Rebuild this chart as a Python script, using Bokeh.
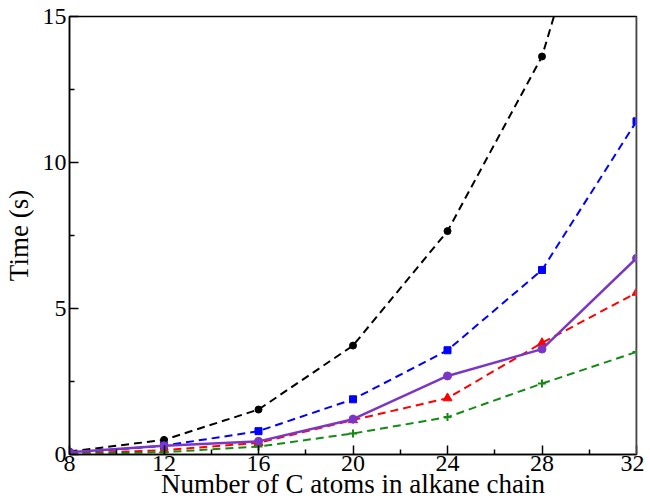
from bokeh.plotting import figure
from bokeh.models import Range1d, FixedTicker, Span
from bokeh.embed import file_html
from bokeh.resources import INLINE

carbons = [8, 12, 16, 20, 24, 28, 32]
black_vals = [0.10, 0.50, 1.54, 3.73, 7.65, 13.63, 24.5]
blue_vals = [0.05, 0.30, 0.80, 1.89, 3.57, 6.32, 11.41]
red_vals = [0.02, 0.15, 0.40, 1.18, 1.93, 3.82, 5.54]
green_vals = [0.01, 0.08, 0.27, 0.72, 1.28, 2.43, 3.51]
purple_vals = [0.08, 0.30, 0.45, 1.21, 2.69, 3.61, 6.72]

x_ticks = [8, 12, 16, 20, 24, 28, 32]
x_minor = [10, 14, 18, 22, 26, 30]
y_ticks = [0, 5, 10, 15]
y_minor = [2.5, 7.5, 12.5]
x_title = "Number of C atoms in alkane chain"
y_title = "Time (s)"

FONT = "Liberation Serif"

p = figure(width=644, height=501, output_backend="svg", toolbar_location=None,
           x_range=Range1d(8, 32), y_range=Range1d(0, 15),
           min_border_left=69, min_border_right=8, min_border_top=16, min_border_bottom=40)
p.xgrid.visible = False
p.ygrid.visible = False
p.outline_line_color = "black"
p.outline_line_width = 1.5
p.background_fill_color = "white"
p.border_fill_color = "white"

dash = "8 5"
p.line(carbons, black_vals, color="black", line_width=2, line_dash=dash)
p.scatter(carbons, black_vals, marker="circle", size=7, color="black")
p.line(carbons, blue_vals, color="#0000ff", line_width=2, line_dash=dash)
p.scatter(carbons, blue_vals, marker="square", size=7, color="#0000ff")
p.line(carbons, red_vals, color="#ff0000", line_width=2, line_dash=dash)
p.scatter(carbons, red_vals, marker="triangle", size=9, color="#ff0000")
p.line(carbons, green_vals, color="#138a13", line_width=2, line_dash=dash)
p.scatter(carbons, green_vals, marker="cross", size=8, color="#138a13", line_width=2)
p.line(carbons, purple_vals, color="#7b36c8", line_width=2.5)
p.scatter(carbons, purple_vals, marker="circle", size=8, color="#7b36c8")

p.add_layout(Span(location=32, dimension="height", line_color="#888888", line_width=2))

for ax in (p.xaxis[0], p.yaxis[0]):
    ax.axis_line_width = 1.5
    ax.major_tick_in = 9
    ax.major_tick_out = 0
    ax.minor_tick_in = 5
    ax.minor_tick_out = 0
    ax.major_tick_line_width = 1.5
    ax.minor_tick_line_width = 1.5
    ax.major_label_text_font = FONT
    ax.major_label_text_font_size = "24px"
    ax.major_label_text_color = "black"
    ax.axis_label_text_font = FONT
    ax.axis_label_text_font_size = "27px"
    ax.axis_label_text_font_style = "normal"
    ax.axis_label_text_color = "black"

p.xaxis.ticker = FixedTicker(ticks=x_ticks, minor_ticks=x_minor)
p.yaxis.ticker = FixedTicker(ticks=y_ticks, minor_ticks=y_minor)
p.xaxis.axis_label = x_title
p.yaxis.axis_label = y_title
p.xaxis.major_label_standoff = 1
p.yaxis.major_label_standoff = 3
p.xaxis.axis_label_standoff = -5
p.yaxis.axis_label_standoff = 6

open("out.html", "w").write(file_html(p, INLINE))
